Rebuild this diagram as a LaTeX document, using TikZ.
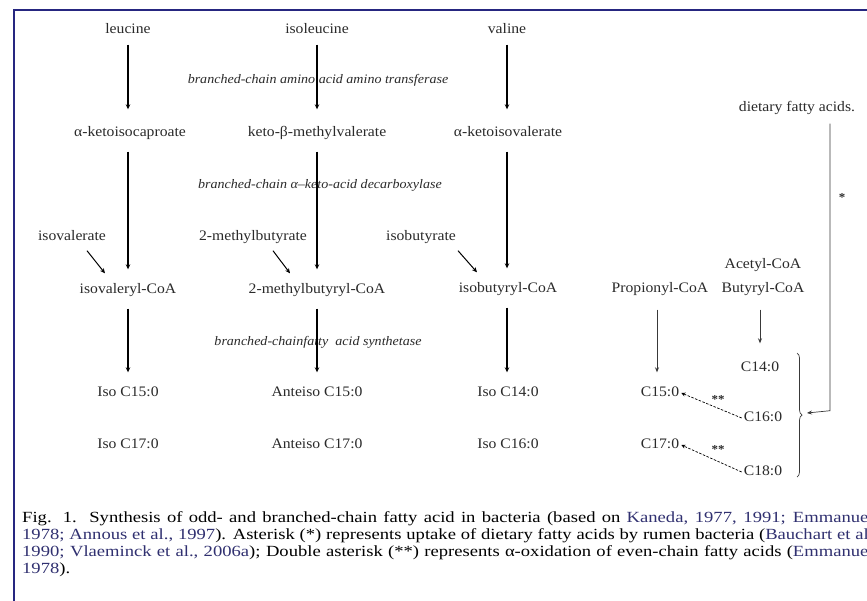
\documentclass[tikz,border=0pt]{standalone}
\usepackage{fontspec}
\setmainfont{Liberation Serif}[FakeStretch=1.08]
\newfontfamily\capfont{Liberation Serif}[FakeStretch=1.2]
\usetikzlibrary{calc,positioning,arrows.meta,decorations.pathreplacing}

\definecolor{framecol}{RGB}{38,38,128}
\definecolor{citecol}{RGB}{48,48,112}
\definecolor{txtcol}{RGB}{42,42,42}

\begin{document}
\begin{tikzpicture}[x=1pt,y=-1pt,
  every node/.style={font=\fontsize{14.5}{16}\selectfont,text=txtcol,
    inner sep=2pt,text height=10pt,text depth=3pt},
  enz/.style={font=\fontsize{13}{15}\selectfont\itshape},
  arr/.style={-{Stealth[length=5pt,width=4.5pt]},line width=1.2pt,
    shorten <=10pt,shorten >=12pt},
  toparr/.style={arr,shorten <=6pt,shorten >=15pt},
  sidearr/.style={-{Stealth[length=5pt,width=4.5pt]},line width=1pt},
  thinarr/.style={-{Stealth[length=5pt,width=4pt]},line width=0.7pt,
    gray!45!black},
  dasharr/.style={-{Stealth[length=4pt,width=4pt]},dashed,line width=0.7pt,
    dash pattern=on 2.5pt off 1.5pt},
  star/.style={font=\fontsize{12}{12}\selectfont\bfseries,text height=7pt,
    text depth=0pt},
  capline/.style={anchor=west,font=\capfont\fontsize{15.5}{17}\selectfont,
    text=black,inner sep=0pt,text height=11pt,text depth=3pt}]
  \clip (0,0) rectangle (867,600);
  \fill[white] (0,0) rectangle (867,600);
  \draw[framecol,line width=2pt] (14,605) -- (14,10) -- (872,10);

  % amino acids and keto acids
  \node (leu) at (128,30) {leucine};
  \node (ile) at (317,30) {isoleucine};
  \node (val) at (507,30) {valine};
  \node (kic) at (130,133) {α-ketoisocaproate};
  \node (kmv) at (317,133) {keto-β-methylvalerate};
  \node (kiv) at (508,133) {α-ketoisovalerate};
  \node (dfa) at (797,108) {dietary fatty acids.};

  % primers
  \node (ival) at (72,237) {isovalerate};
  \node (mbut) at (253,237) {2-methylbutyrate};
  \node (ibut) at (421,237) {isobutyrate};
  \node (ivcoa) at (128,290) {isovaleryl-CoA};
  \node (mbcoa) at (317,290) {2-methylbutyryl-CoA};
  \node (ibcoa) at (508,289) {isobutyryl-CoA};
  \node (pcoa) at (660,289) {Propionyl-CoA};
  \node (acoa) at (763,265) {Acetyl-CoA};
  \node (bcoa) at (763,289) {Butyryl-CoA};

  % fatty acids
  \node (i15) at (128,393) {Iso C15:0};
  \node (a15) at (317,393) {Anteiso C15:0};
  \node (i14) at (508,393) {Iso C14:0};
  \node (c15) at (660,393) {C15:0};
  \node (c14) at (760,368) {C14:0};
  \node (c16) at (763,418) {C16:0};
  \node (i17) at (128,445) {Iso C17:0};
  \node (a17) at (317,445) {Anteiso C17:0};
  \node (i16) at (508,445) {Iso C16:0};
  \node (c17) at (660,445) {C17:0};
  \node (c18) at (763,472) {C18:0};

  % enzymes
  \node[enz] (bcat) at (318,80) {branched-chain amino acid amino transferase};
  \node[enz] (bckd) at (320,185) {branched-chain α–keto-acid decarboxylase};
  \node[enz] (fas) at (318,342) {branched-chainfatty\ \ acid synthetase};

  \draw[toparr] (leu) -- (leu |- kic.north);
  \draw[toparr] (ile) -- (kmv);
  \draw[toparr] (val) -- (val |- kiv.north);
  \draw[arr] (kic.south -| leu) -- (ivcoa);
  \draw[arr] (kmv) -- (mbcoa);
  \draw[arr] (kiv.south -| val) -- (val |- ibcoa.north);
  \draw[arr] (ivcoa) -- (i15);
  \draw[arr] (mbcoa) -- (a15);
  \draw[arr] (ibcoa.south -| val) -- (val |- i14.north);

  \draw[sidearr] ([shift={(15,5)}]ival.south) -- ([shift={(-23,-8)}]ivcoa.north);
  \draw[sidearr] ([shift={(20,5)}]mbut.south) -- ([shift={(-27,-8)}]mbcoa.north);
  \draw[sidearr] ([shift={(37,5)}]ibut.south) -- ([shift={(-31,-8)}]ibcoa.north);

  \draw[thinarr,shorten <=12pt,shorten >=12pt] ([xshift=-3pt]pcoa.south) -- ([xshift=-3pt]pcoa.south |- c15.north);
  \draw[thinarr,shorten <=12pt,shorten >=16pt] (bcoa.south -| c14) -- (c14.north);

  % alpha-oxidation
  \draw[dasharr] (c16.west) -- (c15.east);
  \draw[dasharr] (c18.west) -- (c17.east);
  \node[star] (ox1) at (718,400) {**};
  \node[star] (ox2) at (718,450) {**};

  % uptake of dietary fatty acids
  \draw[decorate,decoration={brace,amplitude=5pt},gray!45!black,line width=0.7pt]
    (797,353) -- (797,477);
  \coordinate (br) at (807,413);
  \draw[thinarr,shorten <=7pt] ([xshift=33pt]dfa.south) -- ++(0,294) -- (br);
  \node[star] (upt) at (842,198) {*};

  % caption
  \node[capline] (cap1) at (22,518) {\hbox to 856pt{Fig. 1.\ \ Synthesis of odd- and branched-chain fatty acid in bacteria (based on \textcolor{citecol}{Kaneda, 1977, 1991; Emmanuel,}}};
  \node[capline] (cap2) at (22,535) {\hbox to 856pt{\textcolor{citecol}{1978; Annous et al., 1997}). Asterisk (*) represents uptake of dietary fatty acids by rumen bacteria (\textcolor{citecol}{Bauchart et al.,}}};
  \node[capline] (cap3) at (22,552) {\hbox to 856pt{\textcolor{citecol}{1990; Vlaeminck et al., 2006a}); Double asterisk (**) represents α-oxidation of even-chain fatty acids (\textcolor{citecol}{Emmanuel,}}};
  \node[capline] (cap4) at (22,569) {\textcolor{citecol}{1978}).};
\end{tikzpicture}
\end{document}
